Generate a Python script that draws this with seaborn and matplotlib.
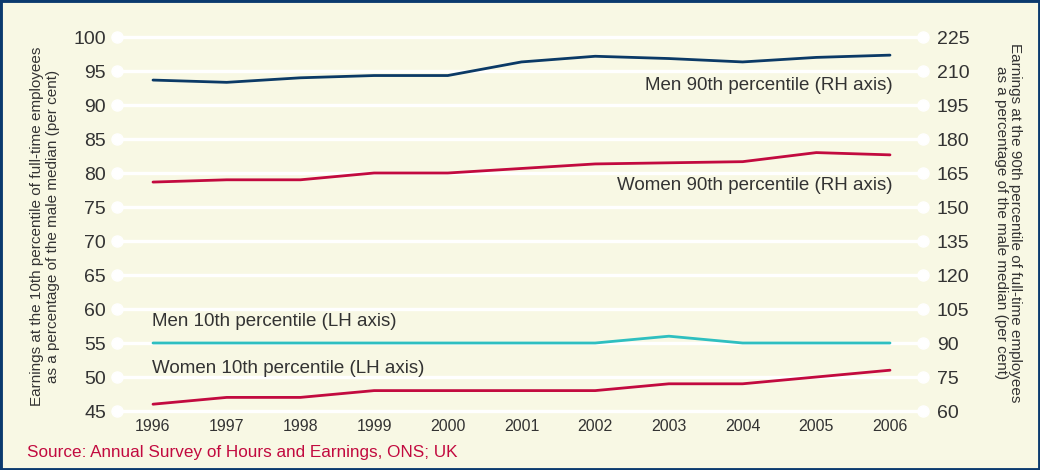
import matplotlib
matplotlib.use("Agg")
import matplotlib.pyplot as plt
import seaborn as sns
import pandas as pd
from matplotlib.patches import Rectangle

years = [1996, 1997, 1998, 1999, 2000, 2001, 2002, 2003, 2004, 2005, 2006]
men_90 = [206, 205, 207, 208, 208, 214, 216.5, 215.5, 214, 216, 217]
women_90 = [161, 162, 162, 165, 165, 167, 169, 169.5, 170, 174, 173]
men_10 = [55, 55, 55, 55, 55, 55, 55, 56, 55, 55, 55]
women_10 = [46, 47, 47, 48, 48, 48, 48, 49, 49, 50, 51]
left_ticks = [45, 50, 55, 60, 65, 70, 75, 80, 85, 90, 95, 100]
right_ticks = [60, 75, 90, 105, 120, 135, 150, 165, 180, 195, 210, 225]

BG = "#F8F8E4"
NAVY = "#0B3A66"
RED = "#C20A3F"
TEAL = "#2EBFC0"
TXT = "#333333"

sns.set_theme(style="white")
plt.rcParams["font.family"] = ["Liberation Sans", "DejaVu Sans"]

df = pd.DataFrame({"year": years, "men_90": men_90, "women_90": women_90,
                   "men_10": men_10, "women_10": women_10})

fig = plt.figure(figsize=(10.4, 4.7), dpi=100, facecolor=BG)
W, H = 1040, 470
x0, x1, ytop, ybot = 117, 923, 37, 411
ax = fig.add_axes([x0 / W, 1 - ybot / H, (x1 - x0) / W, (ybot - ytop) / H])
ax.set_facecolor(BG)
ax.patch.set_alpha(0)
ax2 = ax.twinx()

px_per_year = (890 - 153) / 10
xmin = 1996 - (153 - x0) / px_per_year
xmax = 2006 + (x1 - 890) / px_per_year

# gridlines with end dots
for v in left_ticks:
    ax.plot([xmin, xmax], [v, v], color="white", lw=2.4, zorder=0,
            clip_on=False, solid_capstyle="butt")
    ax.plot([xmin, xmax], [v, v], ls="none", marker="o", ms=8,
            color="white", zorder=0, clip_on=False)

sns.lineplot(data=df, x="year", y="men_10", ax=ax, color=TEAL, lw=2.0)
sns.lineplot(data=df, x="year", y="women_10", ax=ax, color=RED, lw=2.0)
sns.lineplot(data=df, x="year", y="men_90", ax=ax2, color=NAVY, lw=2.0)
sns.lineplot(data=df, x="year", y="women_90", ax=ax2, color=RED, lw=2.0)

ax.set_xlim(xmin, xmax)
ax.set_ylim(45, 100)
ax2.set_ylim(60, 225)
ax.set_yticks(left_ticks)
ax2.set_yticks(right_ticks)
ax.set_xticks(years)
ax.set_xticklabels([str(y) for y in years], fontsize=11.5, color=TXT)
ax.set_yticklabels([str(v) for v in left_ticks], fontsize=14, color=TXT)
ax2.set_yticklabels([str(v) for v in right_ticks], fontsize=14, color=TXT)
ax.tick_params(axis="y", length=0, pad=8)
ax2.tick_params(axis="y", length=0, pad=10)
ax.tick_params(axis="x", length=0, pad=6)
for a in (ax, ax2):
    for s in a.spines.values():
        s.set_visible(False)
    a.set_xlabel("")
    a.set_ylabel("")
    a.grid(False)

ax2.text(2006.03, 203.5, "Men 90th percentile (RH axis)", ha="right", va="center",
         fontsize=13.5, color=TXT)
ax2.text(2006.03, 159.3, "Women 90th percentile (RH axis)", ha="right", va="center",
         fontsize=13.5, color=TXT)
ax.text(1995.99, 58.1, "Men 10th percentile (LH axis)", ha="left", va="center",
        fontsize=13.5, color=TXT)
ax.text(1995.99, 51.2, "Women 10th percentile (LH axis)", ha="left", va="center",
        fontsize=13.5, color=TXT)

fig.text(45 / W, 1 - 226 / H,
         "Earnings at the 10th percentile of full-time employees\nas a percentage of the male median (per cent)",
         rotation=90, ha="center", va="center", fontsize=11, color=TXT,
         linespacing=1.2)
fig.text(1008 / W, 1 - 223 / H,
         "Earnings at the 90th percentile of full-time employees\nas a percentage of the male median (per cent)",
         rotation=270, ha="center", va="center", fontsize=11, color=TXT,
         linespacing=1.05)
fig.text(27 / W, 1 - 452 / H, "Source: Annual Survey of Hours and Earnings, ONS; UK",
         ha="left", va="center", fontsize=12.3, color=RED)

fig.patches.append(Rectangle((0, 0), 1, 1, transform=fig.transFigure,
                             fill=False, edgecolor="#0B3A6E", lw=3.5))

fig.savefig("out.png", dpi=100, facecolor=BG)
